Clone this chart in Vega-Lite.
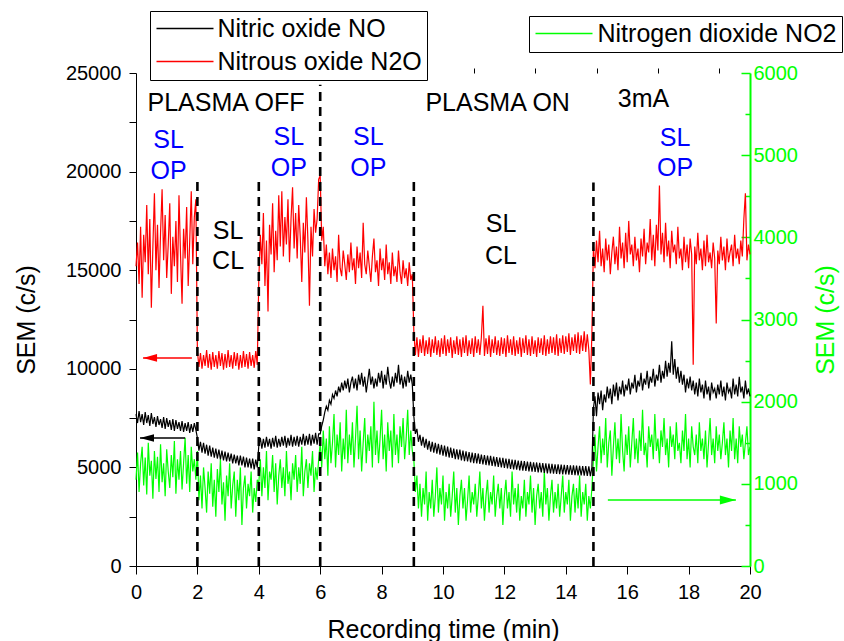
{
"$schema":"https://vega.github.io/schema/vega-lite/v6.json",
"width":614,"height":493,
"autosize":{"type":"none"},
"padding":{"left":136,"top":73,"right":94,"bottom":75},
"config":{"font":"Liberation Sans","view":{"stroke":null},"axis":{"grid":false,"labelFlush":false,"domainColor":"#000000","tickColor":"#000000","labelColor":"#000000","titleColor":"#000000","titleFontWeight":"normal","labelFont":"Liberation Sans","titleFont":"Liberation Sans"},"legend":{"labelFont":"Liberation Sans"}},
"datasets":{
"ts":[
{"t":0.00,"no":7700,"n2o":15200,"no2":1050},{"t":0.05,"no":7250,"n2o":16400,"no2":1380},{"t":0.10,"no":7850,"n2o":14300,"no2":900},{"t":0.15,"no":7300,"n2o":17200,"no2":1250},{"t":0.20,"no":7700,"n2o":13600,"no2":1450},{"t":0.25,"no":7150,"n2o":16800,"no2":980},{"t":0.30,"no":7800,"n2o":15400,"no2":1320},{"t":0.35,"no":7250,"n2o":18300,"no2":870},{"t":0.40,"no":7650,"n2o":14800,"no2":1500},{"t":0.45,"no":7100,"n2o":17600,"no2":1100},
{"t":0.50,"no":7750,"n2o":13100,"no2":1280},{"t":0.55,"no":7200,"n2o":16200,"no2":820},{"t":0.60,"no":7550,"n2o":18900,"no2":1400},{"t":0.65,"no":7050,"n2o":15000,"no2":1060},{"t":0.70,"no":7600,"n2o":17300,"no2":1330},{"t":0.75,"no":7150,"n2o":14100,"no2":900},{"t":0.80,"no":7450,"n2o":16900,"no2":1480},{"t":0.85,"no":7000,"n2o":19100,"no2":1020},{"t":0.90,"no":7550,"n2o":15500,"no2":1250},{"t":0.95,"no":6950,"n2o":17800,"no2":850},
{"t":1.00,"no":7500,"n2o":14600,"no2":1420},{"t":1.05,"no":7050,"n2o":16300,"no2":1150},{"t":1.10,"no":7400,"n2o":18400,"no2":950},{"t":1.15,"no":6900,"n2o":13800,"no2":1350},{"t":1.20,"no":7450,"n2o":16700,"no2":1080},{"t":1.25,"no":6850,"n2o":15200,"no2":1520},{"t":1.30,"no":7400,"n2o":17500,"no2":880},{"t":1.35,"no":6950,"n2o":14400,"no2":1300},{"t":1.40,"no":7300,"n2o":18800,"no2":1050},{"t":1.45,"no":6850,"n2o":15800,"no2":1400},
{"t":1.50,"no":7350,"n2o":13300,"no2":930},{"t":1.55,"no":6800,"n2o":17100,"no2":1250},{"t":1.60,"no":7250,"n2o":15600,"no2":1560},{"t":1.65,"no":6850,"n2o":18200,"no2":1000},{"t":1.70,"no":7300,"n2o":14200,"no2":1350},{"t":1.75,"no":6750,"n2o":16500,"no2":900},{"t":1.80,"no":7200,"n2o":19000,"no2":1450},{"t":1.85,"no":6800,"n2o":15300,"no2":1150},{"t":1.90,"no":7250,"n2o":17700,"no2":1300},{"t":1.95,"no":6900,"n2o":18600,"no2":1050},
{"t":2.00,"no":6500,"n2o":10900,"no2":1400},{"t":2.05,"no":5850,"n2o":10100,"no2":800},{"t":2.10,"no":6300,"n2o":10800,"no2":1100},{"t":2.15,"no":5750,"n2o":10000,"no2":700},{"t":2.20,"no":6250,"n2o":10700,"no2":1200},{"t":2.25,"no":5700,"n2o":10150,"no2":950},{"t":2.30,"no":6150,"n2o":10950,"no2":650},{"t":2.35,"no":5600,"n2o":10050,"no2":1150},{"t":2.40,"no":6100,"n2o":10750,"no2":880},{"t":2.45,"no":5550,"n2o":9950,"no2":1250},
{"t":2.50,"no":6000,"n2o":10850,"no2":720},{"t":2.55,"no":5500,"n2o":10100,"no2":1050},{"t":2.60,"no":5950,"n2o":10700,"no2":600},{"t":2.65,"no":5450,"n2o":10000,"no2":1180},{"t":2.70,"no":5900,"n2o":10900,"no2":900},{"t":2.75,"no":5400,"n2o":10150,"no2":1300},{"t":2.80,"no":5850,"n2o":10800,"no2":750},{"t":2.85,"no":5350,"n2o":9950,"no2":1020},{"t":2.90,"no":5800,"n2o":10750,"no2":550},{"t":2.95,"no":5300,"n2o":10050,"no2":1100},
{"t":3.00,"no":5750,"n2o":10950,"no2":850},{"t":3.05,"no":5300,"n2o":10100,"no2":1250},{"t":3.10,"no":5700,"n2o":10700,"no2":700},{"t":3.15,"no":5200,"n2o":10000,"no2":980},{"t":3.20,"no":5650,"n2o":10850,"no2":1150},{"t":3.25,"no":5200,"n2o":10150,"no2":600},{"t":3.30,"no":5600,"n2o":10800,"no2":1050},{"t":3.35,"no":5100,"n2o":9950,"no2":800},{"t":3.40,"no":5600,"n2o":10700,"no2":1200},{"t":3.45,"no":5100,"n2o":10050,"no2":500},
{"t":3.50,"no":5550,"n2o":10900,"no2":950},{"t":3.55,"no":5000,"n2o":10100,"no2":1100},{"t":3.60,"no":5500,"n2o":10750,"no2":700},{"t":3.65,"no":5000,"n2o":10000,"no2":1000},{"t":3.70,"no":5450,"n2o":10850,"no2":850},{"t":3.75,"no":4950,"n2o":10150,"no2":1150},{"t":3.80,"no":5450,"n2o":10700,"no2":650},{"t":3.85,"no":4900,"n2o":10050,"no2":950},{"t":3.90,"no":5400,"n2o":10900,"no2":780},{"t":3.95,"no":5000,"n2o":10200,"no2":1050},
{"t":4.00,"no":6100,"n2o":14500,"no2":1000},{"t":4.05,"no":6500,"n2o":16800,"no2":1300},{"t":4.10,"no":5950,"n2o":15300,"no2":850},{"t":4.15,"no":6450,"n2o":17900,"no2":1200},{"t":4.20,"no":6000,"n2o":14200,"no2":950},{"t":4.25,"no":6550,"n2o":16500,"no2":1400},{"t":4.30,"no":6050,"n2o":12900,"no2":800},{"t":4.35,"no":6450,"n2o":17300,"no2":1150},{"t":4.40,"no":5950,"n2o":15800,"no2":1050},{"t":4.45,"no":6500,"n2o":18400,"no2":1350},
{"t":4.50,"no":6050,"n2o":14900,"no2":900},{"t":4.55,"no":6600,"n2o":17000,"no2":1250},{"t":4.60,"no":6000,"n2o":15500,"no2":750},{"t":4.65,"no":6450,"n2o":18800,"no2":1100},{"t":4.70,"no":6050,"n2o":16200,"no2":1300},{"t":4.75,"no":6550,"n2o":19000,"no2":950},{"t":4.80,"no":6100,"n2o":15700,"no2":1200},{"t":4.85,"no":6600,"n2o":17700,"no2":850},{"t":4.90,"no":6000,"n2o":16300,"no2":1400},{"t":4.95,"no":6500,"n2o":18600,"no2":1000},
{"t":5.00,"no":6100,"n2o":15400,"no2":1150},{"t":5.05,"no":6650,"n2o":17600,"no2":800},{"t":5.10,"no":6050,"n2o":19200,"no2":1250},{"t":5.15,"no":6550,"n2o":16100,"no2":1050},{"t":5.20,"no":6100,"n2o":17900,"no2":1350},{"t":5.25,"no":6600,"n2o":15600,"no2":900},{"t":5.30,"no":6050,"n2o":18300,"no2":1200},{"t":5.35,"no":6550,"n2o":16700,"no2":1000},{"t":5.40,"no":6150,"n2o":14400,"no2":1450},{"t":5.45,"no":6700,"n2o":17400,"no2":850},
{"t":5.50,"no":6100,"n2o":15900,"no2":1150},{"t":5.55,"no":6600,"n2o":18700,"no2":1300},{"t":5.60,"no":6150,"n2o":16500,"no2":950},{"t":5.65,"no":6700,"n2o":13200,"no2":1250},{"t":5.70,"no":6100,"n2o":17200,"no2":1100},{"t":5.75,"no":6650,"n2o":15700,"no2":1400},{"t":5.80,"no":6200,"n2o":18100,"no2":900},{"t":5.85,"no":6750,"n2o":16900,"no2":1200},{"t":5.90,"no":6150,"n2o":17600,"no2":1050},{"t":5.95,"no":6700,"n2o":19600,"no2":1300},
{"t":6.00,"no":6700,"n2o":19800,"no2":1500},{"t":6.05,"no":7100,"n2o":16500,"no2":1200},{"t":6.10,"no":7400,"n2o":17200,"no2":1650},{"t":6.15,"no":7800,"n2o":15200,"no2":1300},{"t":6.20,"no":8100,"n2o":16300,"no2":1550},{"t":6.25,"no":7900,"n2o":14800,"no2":1100},{"t":6.30,"no":8400,"n2o":15900,"no2":1700},{"t":6.35,"no":8200,"n2o":14600,"no2":1250},{"t":6.40,"no":8700,"n2o":16100,"no2":1500},{"t":6.45,"no":8500,"n2o":15000,"no2":1850},
{"t":6.50,"no":8900,"n2o":15700,"no2":1200},{"t":6.55,"no":8600,"n2o":14400,"no2":1600},{"t":6.60,"no":9100,"n2o":16800,"no2":1350},{"t":6.65,"no":8800,"n2o":15100,"no2":1750},{"t":6.70,"no":9300,"n2o":14700,"no2":1150},{"t":6.75,"no":8900,"n2o":16000,"no2":1550},{"t":6.80,"no":9400,"n2o":15300,"no2":1300},{"t":6.85,"no":9000,"n2o":14500,"no2":1900},{"t":6.90,"no":9500,"n2o":15800,"no2":1250},{"t":6.95,"no":8800,"n2o":14900,"no2":1600},
{"t":7.00,"no":9300,"n2o":16400,"no2":1350},{"t":7.05,"no":9600,"n2o":15000,"no2":1750},{"t":7.10,"no":9000,"n2o":15600,"no2":1200},{"t":7.15,"no":9500,"n2o":14300,"no2":1550},{"t":7.20,"no":8900,"n2o":16200,"no2":1950},{"t":7.25,"no":9700,"n2o":15100,"no2":1300},{"t":7.30,"no":9200,"n2o":15900,"no2":1650},{"t":7.35,"no":9800,"n2o":14600,"no2":1150},{"t":7.40,"no":9100,"n2o":17400,"no2":1500},{"t":7.45,"no":9600,"n2o":15300,"no2":1800},
{"t":7.50,"no":8800,"n2o":14800,"no2":1250},{"t":7.55,"no":9400,"n2o":16000,"no2":1600},{"t":7.60,"no":10000,"n2o":15200,"no2":1400},{"t":7.65,"no":9200,"n2o":14400,"no2":1700},{"t":7.70,"no":9600,"n2o":15700,"no2":1200},{"t":7.75,"no":9000,"n2o":16600,"no2":2000},{"t":7.80,"no":9500,"n2o":14900,"no2":1350},{"t":7.85,"no":9100,"n2o":15500,"no2":1650},{"t":7.90,"no":9800,"n2o":14200,"no2":1250},{"t":7.95,"no":9300,"n2o":16100,"no2":1550},
{"t":8.00,"no":9900,"n2o":15000,"no2":1900},{"t":8.05,"no":9000,"n2o":15600,"no2":1300},{"t":8.10,"no":9700,"n2o":14500,"no2":1600},{"t":8.15,"no":9200,"n2o":16300,"no2":1150},{"t":8.20,"no":10100,"n2o":14800,"no2":1750},{"t":8.25,"no":9400,"n2o":15400,"no2":1400},{"t":8.30,"no":9000,"n2o":14300,"no2":1650},{"t":8.35,"no":9600,"n2o":15900,"no2":1200},{"t":8.40,"no":9100,"n2o":14700,"no2":1850},{"t":8.45,"no":9800,"n2o":15200,"no2":1350},
{"t":8.50,"no":9300,"n2o":14400,"no2":1600},{"t":8.55,"no":10200,"n2o":16000,"no2":1250},{"t":8.60,"no":9200,"n2o":14900,"no2":1700},{"t":8.65,"no":9700,"n2o":14300,"no2":1450},{"t":8.70,"no":9000,"n2o":15500,"no2":1800},{"t":8.75,"no":9600,"n2o":14600,"no2":1300},{"t":8.80,"no":9100,"n2o":15100,"no2":1550},{"t":8.85,"no":9900,"n2o":14200,"no2":1900},{"t":8.90,"no":9300,"n2o":15400,"no2":1350},{"t":8.95,"no":9700,"n2o":14500,"no2":1650},
{"t":9.00,"no":9200,"n2o":14800,"no2":1400},
{"t":9.05,"no":7600,"n2o":11900,"no2":1300},{"t":9.10,"no":6700,"n2o":10700,"no2":900},{"t":9.15,"no":6950,"n2o":11600,"no2":1100},{"t":9.20,"no":6300,"n2o":10600,"no2":700},{"t":9.25,"no":6650,"n2o":11500,"no2":1000},{"t":9.30,"no":6100,"n2o":10800,"no2":600},{"t":9.35,"no":6550,"n2o":11700,"no2":950},{"t":9.40,"no":6000,"n2o":10650,"no2":750},{"t":9.45,"no":6450,"n2o":11450,"no2":1150},
{"t":9.50,"no":5900,"n2o":10750,"no2":550},{"t":9.55,"no":6350,"n2o":11600,"no2":900},{"t":9.60,"no":5800,"n2o":10600,"no2":700},{"t":9.65,"no":6300,"n2o":11500,"no2":1050},{"t":9.70,"no":5750,"n2o":10800,"no2":600},{"t":9.75,"no":6250,"n2o":11650,"no2":850},{"t":9.80,"no":5700,"n2o":10700,"no2":1200},{"t":9.85,"no":6200,"n2o":11450,"no2":650},{"t":9.90,"no":5650,"n2o":10600,"no2":950},{"t":9.95,"no":6150,"n2o":11550,"no2":750},
{"t":10.00,"no":5600,"n2o":10750,"no2":1100},{"t":10.05,"no":6100,"n2o":11700,"no2":550},{"t":10.10,"no":5550,"n2o":10650,"no2":900},{"t":10.15,"no":6050,"n2o":11500,"no2":700},{"t":10.20,"no":5500,"n2o":10800,"no2":1000},{"t":10.25,"no":6000,"n2o":11600,"no2":600},{"t":10.30,"no":5480,"n2o":10550,"no2":850},{"t":10.35,"no":5950,"n2o":11450,"no2":1150},{"t":10.40,"no":5420,"n2o":10750,"no2":650},{"t":10.45,"no":5920,"n2o":11650,"no2":950},
{"t":10.50,"no":5400,"n2o":10700,"no2":500},{"t":10.55,"no":5900,"n2o":11500,"no2":850},{"t":10.60,"no":5350,"n2o":10600,"no2":1050},{"t":10.65,"no":5850,"n2o":11600,"no2":700},{"t":10.70,"no":5320,"n2o":10800,"no2":950},{"t":10.75,"no":5820,"n2o":11700,"no2":550},{"t":10.80,"no":5300,"n2o":10650,"no2":800},{"t":10.85,"no":5780,"n2o":11450,"no2":1100},{"t":10.90,"no":5250,"n2o":10750,"no2":650},{"t":10.95,"no":5750,"n2o":11550,"no2":900},
{"t":11.00,"no":5220,"n2o":10600,"no2":750},{"t":11.05,"no":5720,"n2o":11650,"no2":1000},{"t":11.10,"no":5200,"n2o":10800,"no2":600},{"t":11.15,"no":5700,"n2o":11500,"no2":850},{"t":11.20,"no":5180,"n2o":10700,"no2":1150},{"t":11.25,"no":5650,"n2o":11600,"no2":700},{"t":11.30,"no":5150,"n2o":13200,"no2":950},{"t":11.35,"no":5630,"n2o":10650,"no2":550},{"t":11.40,"no":5120,"n2o":11550,"no2":850},{"t":11.45,"no":5600,"n2o":10750,"no2":1050},
{"t":11.50,"no":5100,"n2o":11700,"no2":650},{"t":11.55,"no":5580,"n2o":10600,"no2":900},{"t":11.60,"no":5080,"n2o":11500,"no2":750},{"t":11.65,"no":5550,"n2o":10800,"no2":1100},{"t":11.70,"no":5050,"n2o":11650,"no2":600},{"t":11.75,"no":5520,"n2o":10700,"no2":850},{"t":11.80,"no":5020,"n2o":11450,"no2":1000},{"t":11.85,"no":5500,"n2o":10650,"no2":700},{"t":11.90,"no":5000,"n2o":11600,"no2":950},{"t":11.95,"no":5480,"n2o":10750,"no2":500},
{"t":12.00,"no":4980,"n2o":11550,"no2":850},{"t":12.05,"no":5450,"n2o":10600,"no2":1050},{"t":12.10,"no":4950,"n2o":11700,"no2":700},{"t":12.15,"no":5430,"n2o":10800,"no2":900},{"t":12.20,"no":4920,"n2o":11500,"no2":600},{"t":12.25,"no":5400,"n2o":10700,"no2":1150},{"t":12.30,"no":4900,"n2o":11650,"no2":750},{"t":12.35,"no":5380,"n2o":10650,"no2":950},{"t":12.40,"no":4880,"n2o":11450,"no2":650},{"t":12.45,"no":5350,"n2o":10750,"no2":1000},
{"t":12.50,"no":4850,"n2o":11600,"no2":550},{"t":12.55,"no":5330,"n2o":10600,"no2":850},{"t":12.60,"no":4840,"n2o":11550,"no2":700},{"t":12.65,"no":5320,"n2o":10800,"no2":1050},{"t":12.70,"no":4820,"n2o":11700,"no2":600},{"t":12.75,"no":5300,"n2o":10700,"no2":900},{"t":12.80,"no":4800,"n2o":11500,"no2":750},{"t":12.85,"no":5280,"n2o":10650,"no2":1100},{"t":12.90,"no":4780,"n2o":11650,"no2":650},{"t":12.95,"no":5260,"n2o":10750,"no2":950},
{"t":13.00,"no":4770,"n2o":11450,"no2":500},{"t":13.05,"no":5250,"n2o":10600,"no2":850},{"t":13.10,"no":4750,"n2o":11600,"no2":1000},{"t":13.15,"no":5230,"n2o":10800,"no2":700},{"t":13.20,"no":4740,"n2o":11550,"no2":900},{"t":13.25,"no":5220,"n2o":10700,"no2":600},{"t":13.30,"no":4720,"n2o":11700,"no2":1150},{"t":13.35,"no":5200,"n2o":10650,"no2":750},{"t":13.40,"no":4700,"n2o":11500,"no2":950},{"t":13.45,"no":5190,"n2o":10750,"no2":550},
{"t":13.50,"no":4690,"n2o":11650,"no2":850},{"t":13.55,"no":5180,"n2o":10800,"no2":1050},{"t":13.60,"no":4680,"n2o":11600,"no2":650},{"t":13.65,"no":5160,"n2o":10700,"no2":900},{"t":13.70,"no":4670,"n2o":11750,"no2":700},{"t":13.75,"no":5150,"n2o":10650,"no2":1000},{"t":13.80,"no":4660,"n2o":11550,"no2":600},{"t":13.85,"no":5140,"n2o":10800,"no2":850},{"t":13.90,"no":4650,"n2o":11700,"no2":1100},{"t":13.95,"no":5130,"n2o":10750,"no2":650},
{"t":14.00,"no":4640,"n2o":11650,"no2":900},{"t":14.05,"no":5120,"n2o":10850,"no2":750},{"t":14.10,"no":4630,"n2o":11800,"no2":1050},{"t":14.15,"no":5110,"n2o":10700,"no2":550},{"t":14.20,"no":4620,"n2o":11600,"no2":850},{"t":14.25,"no":5100,"n2o":10900,"no2":1000},{"t":14.30,"no":4610,"n2o":11750,"no2":650},{"t":14.35,"no":5090,"n2o":10800,"no2":950},{"t":14.40,"no":4600,"n2o":11850,"no2":700},{"t":14.45,"no":5080,"n2o":10750,"no2":1100},
{"t":14.50,"no":4590,"n2o":11700,"no2":600},{"t":14.55,"no":5070,"n2o":10900,"no2":900},{"t":14.60,"no":4580,"n2o":11900,"no2":750},{"t":14.65,"no":5060,"n2o":10850,"no2":1000},{"t":14.70,"no":4570,"n2o":11750,"no2":550},{"t":14.75,"no":5050,"n2o":10950,"no2":850},{"t":14.80,"no":4560,"n2o":9200,"no2":700},{"t":14.85,"no":5000,"n2o":11800,"no2":950},
{"t":14.90,"no":8000,"n2o":16200,"no2":1300},{"t":14.95,"no":8600,"n2o":15100,"no2":1600},
{"t":15.00,"no":7600,"n2o":16500,"no2":1150},{"t":15.05,"no":8800,"n2o":15400,"no2":1450},{"t":15.10,"no":8200,"n2o":17000,"no2":1700},{"t":15.15,"no":8900,"n2o":15200,"no2":1250},{"t":15.20,"no":7900,"n2o":16100,"no2":1550},{"t":15.25,"no":8700,"n2o":14900,"no2":1350},{"t":15.30,"no":8300,"n2o":16600,"no2":1800},{"t":15.35,"no":9100,"n2o":15500,"no2":1200},{"t":15.40,"no":8500,"n2o":16300,"no2":1500},{"t":15.45,"no":9000,"n2o":14800,"no2":1650},
{"t":15.50,"no":8200,"n2o":15900,"no2":1100},{"t":15.55,"no":9200,"n2o":16700,"no2":1450},{"t":15.60,"no":8600,"n2o":15300,"no2":1750},{"t":15.65,"no":9300,"n2o":16200,"no2":1300},{"t":15.70,"no":8400,"n2o":15000,"no2":1550},{"t":15.75,"no":9100,"n2o":17200,"no2":1250},{"t":15.80,"no":8700,"n2o":15600,"no2":1850},{"t":15.85,"no":9400,"n2o":16400,"no2":1400},{"t":15.90,"no":8600,"n2o":15100,"no2":1150},{"t":15.95,"no":9200,"n2o":16900,"no2":1600},
{"t":16.00,"no":8900,"n2o":15400,"no2":1350},{"t":16.05,"no":9500,"n2o":17500,"no2":1700},{"t":16.10,"no":8700,"n2o":15800,"no2":1200},{"t":16.15,"no":9300,"n2o":16300,"no2":1500},{"t":16.20,"no":9000,"n2o":15200,"no2":1800},{"t":16.25,"no":9700,"n2o":16700,"no2":1300},{"t":16.30,"no":8800,"n2o":15500,"no2":1550},{"t":16.35,"no":9400,"n2o":16100,"no2":1250},{"t":16.40,"no":9100,"n2o":14900,"no2":1650},{"t":16.45,"no":9800,"n2o":16600,"no2":1400},
{"t":16.50,"no":8900,"n2o":15700,"no2":1900},{"t":16.55,"no":9500,"n2o":17100,"no2":1350},{"t":16.60,"no":9200,"n2o":15300,"no2":1500},{"t":16.65,"no":9900,"n2o":16400,"no2":1200},{"t":16.70,"no":9000,"n2o":15900,"no2":1700},{"t":16.75,"no":9600,"n2o":17600,"no2":1450},{"t":16.80,"no":9300,"n2o":15500,"no2":1600},{"t":16.85,"no":10000,"n2o":16800,"no2":1300},{"t":16.90,"no":9100,"n2o":15200,"no2":1850},{"t":16.95,"no":9700,"n2o":17300,"no2":1400},
{"t":17.00,"no":9400,"n2o":16000,"no2":1550},{"t":17.05,"no":10200,"n2o":19300,"no2":1250},{"t":17.10,"no":9300,"n2o":15800,"no2":1650},{"t":17.15,"no":9900,"n2o":16900,"no2":1450},{"t":17.20,"no":9500,"n2o":15400,"no2":1800},{"t":17.25,"no":10400,"n2o":17400,"no2":1350},{"t":17.30,"no":9600,"n2o":15700,"no2":1550},{"t":17.35,"no":10300,"n2o":16500,"no2":1200},{"t":17.40,"no":9800,"n2o":15100,"no2":1700},{"t":17.45,"no":11400,"n2o":17000,"no2":1450},
{"t":17.50,"no":9700,"n2o":15900,"no2":1600},{"t":17.55,"no":10500,"n2o":16300,"no2":1300},{"t":17.60,"no":9500,"n2o":15300,"no2":1750},{"t":17.65,"no":10100,"n2o":17200,"no2":1400},{"t":17.70,"no":9300,"n2o":15600,"no2":1500},{"t":17.75,"no":9900,"n2o":16100,"no2":1250},{"t":17.80,"no":9200,"n2o":15000,"no2":1650},{"t":17.85,"no":9700,"n2o":16700,"no2":1400},{"t":17.90,"no":8800,"n2o":15400,"no2":1850},{"t":17.95,"no":9500,"n2o":16300,"no2":1300},
{"t":18.00,"no":9000,"n2o":15100,"no2":1550},{"t":18.05,"no":9600,"n2o":16600,"no2":1200},{"t":18.10,"no":8900,"n2o":15800,"no2":1700},{"t":18.15,"no":9400,"n2o":10200,"no2":1450},{"t":18.20,"no":8700,"n2o":16200,"no2":1350},{"t":18.25,"no":9300,"n2o":15300,"no2":1600},{"t":18.30,"no":8600,"n2o":16900,"no2":1250},{"t":18.35,"no":9500,"n2o":15500,"no2":1750},{"t":18.40,"no":8800,"n2o":16100,"no2":1400},{"t":18.45,"no":9200,"n2o":15000,"no2":1550},
{"t":18.50,"no":8500,"n2o":16500,"no2":1300},{"t":18.55,"no":9400,"n2o":15200,"no2":1650},{"t":18.60,"no":8700,"n2o":16800,"no2":1200},{"t":18.65,"no":9100,"n2o":15400,"no2":1500},{"t":18.70,"no":8400,"n2o":15900,"no2":1800},{"t":18.75,"no":9300,"n2o":15100,"no2":1350},{"t":18.80,"no":8800,"n2o":16400,"no2":1550},{"t":18.85,"no":9000,"n2o":15600,"no2":1250},{"t":18.90,"no":8500,"n2o":12300,"no2":1700},{"t":18.95,"no":9200,"n2o":16000,"no2":1400},
{"t":19.00,"no":8700,"n2o":15300,"no2":1600},{"t":19.05,"no":9400,"n2o":16700,"no2":1300},{"t":19.10,"no":8600,"n2o":15500,"no2":1500},{"t":19.15,"no":9100,"n2o":16200,"no2":1750},{"t":19.20,"no":8400,"n2o":15000,"no2":1350},{"t":19.25,"no":9300,"n2o":16600,"no2":1550},{"t":19.30,"no":8800,"n2o":15400,"no2":1200},{"t":19.35,"no":9000,"n2o":15900,"no2":1650},{"t":19.40,"no":8500,"n2o":16300,"no2":1400},{"t":19.45,"no":9500,"n2o":15200,"no2":1800},
{"t":19.50,"no":8700,"n2o":16800,"no2":1300},{"t":19.55,"no":9200,"n2o":15600,"no2":1550},{"t":19.60,"no":8600,"n2o":16100,"no2":1250},{"t":19.65,"no":9600,"n2o":15300,"no2":1700},{"t":19.70,"no":8800,"n2o":16500,"no2":1450},{"t":19.75,"no":9100,"n2o":15700,"no2":1600},{"t":19.80,"no":8500,"n2o":17600,"no2":1300},{"t":19.85,"no":9400,"n2o":18900,"no2":1500},{"t":19.90,"no":8700,"n2o":15500,"no2":1700},{"t":19.95,"no":9000,"n2o":16300,"no2":1350},
{"t":20.00,"no":8600,"n2o":15800,"no2":1450}
],
"vlines":[{"t":2,"lo":0,"hi":19700},{"t":4,"lo":0,"hi":19700},{"t":6,"lo":0,"hi":24400},{"t":9.05,"lo":0,"hi":19550},{"t":14.9,"lo":0,"hi":19450}],
"notes":[
{"t":2.93,"v":23500,"txt":"PLASMA OFF","k":"state"},
{"t":11.78,"v":23500,"txt":"PLASMA ON","k":"state"},
{"t":16.53,"v":23680,"txt":"3mA","k":"state"},
{"t":1.06,"v":21600,"txt":"SL","k":"open"},{"t":1.06,"v":20030,"txt":"OP","k":"open"},
{"t":4.98,"v":21750,"txt":"SL","k":"open"},{"t":4.98,"v":20180,"txt":"OP","k":"open"},
{"t":7.57,"v":21750,"txt":"SL","k":"open"},{"t":7.57,"v":20180,"txt":"OP","k":"open"},
{"t":17.56,"v":21700,"txt":"SL","k":"open"},{"t":17.56,"v":20180,"txt":"OP","k":"open"},
{"t":3.0,"v":16990,"txt":"SL","k":"state"},{"t":3.0,"v":15470,"txt":"CL","k":"state"},
{"t":11.89,"v":17340,"txt":"SL","k":"state"},{"t":11.89,"v":15720,"txt":"CL","k":"state"}
],
"arrows":[
{"s":"n2o","tail":1.82,"tip":0.23,"v":10550},
{"s":"no","tail":1.6,"tip":0.13,"v":6490},
{"s":"no2","tail":15.37,"tip":19.54,"v":803}
]
},
"resolve":{"scale":{"y":"independent","color":"independent"},"axis":{"x":"independent"}},
"layer":[
{"data":{"name":"ts"},"transform":[{"fold":["no2"],"as":["s","v"]}],
 "mark":{"type":"line","strokeWidth":1.2},
 "encoding":{
  "x":{"field":"t","type":"quantitative","scale":{"domain":[0,20],"nice":false},"axis":null},
  "y":{"field":"v","type":"quantitative","scale":{"domain":[0,6000],"nice":false},
   "axis":{"orient":"right","values":[0,1000,2000,3000,4000,5000,6000],"format":"d","tickSize":-9,"tickWidth":1.5,"tickColor":"#00ff00","domainColor":"#00ff00","domainWidth":2,"labelColor":"#00ff00","labelFontSize":20,"labelPadding":12,"title":"SEM (c/s)","titleColor":"#00ff00","titleFontSize":25,"titleAngle":270,"titlePadding":41}},
  "color":{"field":"s","type":"nominal","scale":{"domain":["no2"],"range":["#00ff00"]},
   "legend":{"orient":"none","legendX":393,"legendY":-57,"title":null,"labelExpr":"'Nitrogen dioxide NO2'","labelLimit":500,"labelFontSize":25,"labelOffset":21,"symbolType":"M-2.85,0L2.85,0","symbolSize":400,"symbolOffset":17.5,"symbolStrokeWidth":1.5,"padding":5,"strokeColor":"#000000","fillColor":"#ffffff"}}
 }},
{"data":{"name":"ts"},"transform":[{"fold":["no","n2o"],"as":["s","v"]}],
 "mark":{"type":"line","strokeWidth":1.2},
 "encoding":{
  "x":{"field":"t","type":"quantitative","scale":{"domain":[0,20],"nice":false},
   "axis":{"values":[0,2,4,6,8,10,12,14,16,18,20],"format":"d","tickSize":8,"labelFontSize":20,"labelPadding":8,"title":"Recording time (min)","titleFontSize":25,"titlePadding":15}},
  "y":{"field":"v","type":"quantitative","scale":{"domain":[0,25000],"nice":false},
   "axis":{"orient":"left","values":[0,5000,10000,15000,20000,25000],"format":"d","tickSize":7,"labelFontSize":20,"labelPadding":8,"title":"SEM (c/s)","titleFontSize":25,"titlePadding":26}},
  "color":{"field":"s","type":"nominal","scale":{"domain":["no","n2o"],"range":["#000000","#ff0000"]},
   "legend":{"orient":"none","legendX":14,"legendY":-62,"title":null,"labelExpr":"datum.value === 'no' ? 'Nitric oxide NO' : 'Nitrous oxide N2O'","labelLimit":500,"labelFontSize":25,"labelOffset":20,"symbolType":"M-2.85,0L2.85,0","symbolSize":400,"symbolOffset":17.5,"symbolStrokeWidth":1.5,"padding":5,"rowPadding":7,"strokeColor":"#000000","fillColor":"#ffffff"}}
 }},
{"data":{"name":"vlines"},
 "mark":{"type":"rule","strokeWidth":2.6,"strokeDash":[9,6],"color":"#000000"},
 "encoding":{
  "x":{"field":"t","type":"quantitative","scale":{"domain":[0,20],"nice":false},
   "axis":{"values":[1,3,5,7,9,11,13,15,17,19],"tickSize":5,"labels":false,"domain":false,"title":null}},
  "y":{"field":"lo","type":"quantitative","scale":{"domain":[0,25000],"nice":false},
   "axis":{"orient":"left","values":[2500,7500,12500,17500,22500],"tickSize":7,"labels":false,"domain":false,"title":null}},
  "y2":{"field":"hi"}
 }},
{"data":{"name":"notes"},
 "mark":{"type":"text","fontSize":25,"align":"center","baseline":"middle","font":"Liberation Sans"},
 "encoding":{
  "x":{"field":"t","type":"quantitative","scale":{"domain":[0,20],"nice":false},"axis":null},
  "y":{"field":"v","type":"quantitative","scale":{"domain":[0,25000],"nice":false},"axis":null},
  "text":{"field":"txt"},
  "color":{"field":"k","type":"nominal","scale":{"domain":["state","open"],"range":["#000000","#0000ff"]},"legend":null}
 }},
{"data":{"name":"arrows"},"transform":[{"filter":"datum.s !== 'no2'"}],
 "mark":{"type":"rule","strokeWidth":1.6},
 "encoding":{
  "x":{"field":"tail","type":"quantitative","scale":{"domain":[0,20],"nice":false},"axis":null},
  "x2":{"field":"tip"},
  "y":{"field":"v","type":"quantitative","scale":{"domain":[0,25000],"nice":false},"axis":null},
  "color":{"field":"s","type":"nominal","scale":{"domain":["n2o","no"],"range":["#ff0000","#000000"]},"legend":null}
 }},
{"data":{"name":"arrows"},"transform":[{"filter":"datum.s !== 'no2'"}],
 "mark":{"type":"point","filled":true,"opacity":1,"strokeWidth":0,"shape":"M0,0L2,-0.55L2,0.55Z","size":196},
 "encoding":{
  "x":{"field":"tip","type":"quantitative","scale":{"domain":[0,20],"nice":false},"axis":null},
  "y":{"field":"v","type":"quantitative","scale":{"domain":[0,25000],"nice":false},"axis":null},
  "color":{"field":"s","type":"nominal","scale":{"domain":["n2o","no"],"range":["#ff0000","#000000"]},"legend":null}
 }},
{"data":{"name":"arrows"},"transform":[{"filter":"datum.s === 'no2'"}],
 "mark":{"type":"rule","strokeWidth":1.6,"color":"#00ff00"},
 "encoding":{
  "x":{"field":"tail","type":"quantitative","scale":{"domain":[0,20],"nice":false},"axis":null},
  "x2":{"field":"tip"},
  "y":{"field":"v","type":"quantitative","scale":{"domain":[0,6000],"nice":false},
   "axis":{"orient":"right","values":[500,1500,2500,3500,4500,5500],"tickSize":-5,"tickWidth":1.5,"tickColor":"#00ff00","labels":false,"domain":false,"title":null}}
 }},
{"data":{"name":"arrows"},"transform":[{"filter":"datum.s === 'no2'"}],
 "mark":{"type":"point","filled":true,"opacity":1,"strokeWidth":0,"shape":"M0,0L-2,-0.55L-2,0.55Z","size":256,"color":"#00ff00"},
 "encoding":{
  "x":{"field":"tip","type":"quantitative","scale":{"domain":[0,20],"nice":false},"axis":null},
  "y":{"field":"v","type":"quantitative","scale":{"domain":[0,6000],"nice":false},"axis":null}
 }}
]
}
